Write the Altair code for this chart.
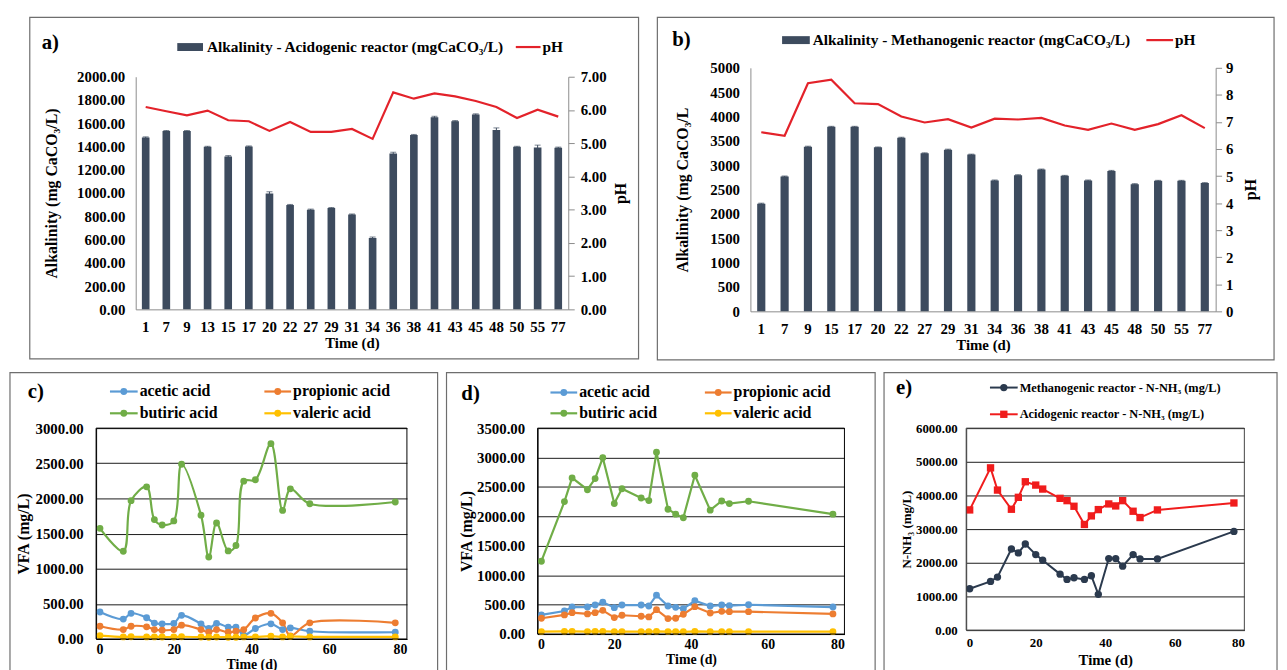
import altair as alt
import pandas as pd

FONT = "Liberation Serif"
BAR = "#3D4B5E"
RED = "#E3222A"
AXC = "#8C8C8C"
FRAME = "#6E6E6E"

# ---------------- data ----------------
days_a = ["1", "7", "9", "13", "15", "17", "20", "22", "27", "29", "31", "34", "36", "38", "41", "43", "45", "48", "50", "55", "77"]
alk_a = [1477, 1533, 1533, 1397, 1315, 1400, 996, 897, 857, 871, 815, 614, 1341, 1499, 1652, 1618, 1675, 1542, 1397, 1392, 1390]
err_a = [6, 5, 5, 5, 7, 5, 15, 5, 5, 5, 5, 8, 10, 5, 8, 5, 6, 18, 5, 20, 5]
ph_a = [6.09, 5.96, 5.84, 5.98, 5.69, 5.66, 5.37, 5.64, 5.34, 5.34, 5.43, 5.13, 6.53, 6.34, 6.50, 6.41, 6.27, 6.09, 5.76, 6.01, 5.80]

days_b = ["1", "7", "9", "15", "17", "20", "22", "27", "29", "31", "34", "36", "38", "41", "43", "45", "48", "50", "55", "77"]
alk_b = [2211, 2769, 3381, 3789, 3789, 3367, 3565, 3245, 3320, 3218, 2687, 2796, 2912, 2782, 2687, 2884, 2612, 2680, 2680, 2633]
err_b = [10, 10, 10, 10, 10, 10, 10, 10, 10, 10, 10, 10, 10, 10, 10, 10, 10, 10, 10, 10]
ph_b = [6.62, 6.49, 8.43, 8.56, 7.69, 7.66, 7.20, 6.98, 7.10, 6.79, 7.12, 7.09, 7.15, 6.87, 6.71, 6.94, 6.71, 6.92, 7.25, 6.77]

days_vfa = [1, 7, 9, 13, 15, 17, 20, 22, 27, 29, 31, 34, 36, 38, 41, 45, 48, 50, 55, 77]
acids = ["acetic acid", "propionic acid", "butiric acid", "valeric acid"]
acid_colors = ["#5B9BD5", "#ED7D31", "#70AD47", "#FFC000"]

acetic_c = [384, 283, 365, 302, 226, 216, 221, 336, 216, 149, 221, 168, 168, 55, 149, 216, 134, 158, 110, 96]
propionic_c = [182, 134, 182, 173, 134, 125, 134, 197, 134, 96, 134, 96, 110, 134, 298, 365, 230, 45, 230, 230]
butiric_c = [1574, 1248, 1968, 2165, 1699, 1622, 1680, 2486, 1762, 1166, 1651, 1253, 1330, 2246, 2266, 2779, 1829, 2136, 1925, 1949]
valeric_c = [48, 30, 32, 30, 30, 28, 28, 32, 28, 25, 28, 25, 25, 30, 30, 40, 30, 35, 30, 30]

acetic_d = [325, 392, 459, 459, 493, 543, 448, 493, 493, 476, 661, 476, 454, 431, 566, 476, 493, 482, 498, 459]
propionic_d = [269, 325, 364, 342, 364, 403, 280, 319, 302, 291, 414, 263, 269, 336, 465, 358, 386, 381, 381, 342]
butiric_d = [1238, 2251, 2654, 2453, 2643, 2996, 2218, 2470, 2313, 2268, 3091, 2122, 2038, 1977, 2699, 2106, 2262, 2218, 2257, 2038]
valeric_d = [40, 45, 45, 42, 45, 45, 40, 40, 40, 40, 45, 40, 40, 38, 45, 40, 40, 40, 40, 40]

days_e = [1, 7, 9, 13, 15, 17, 20, 22, 27, 29, 31, 34, 36, 38, 41, 43, 45, 48, 50, 55, 77]
meth_e = [1229, 1446, 1574, 2410, 2292, 2557, 2243, 2075, 1662, 1505, 1554, 1505, 1613, 1062, 2125, 2125, 1898, 2243, 2115, 2115, 2931]
acid_e = [3570, 4820, 4160, 3590, 3945, 4407, 4308, 4190, 3915, 3846, 3679, 3138, 3393, 3580, 3748, 3689, 3846, 3531, 3344, 3570, 3777]

legend_a = ["Alkalinity - Acidogenic reactor (mgCaCO\u2083/L)", "pH"]
legend_b = ["Alkalinity - Methanogenic reactor (mgCaCO\u2083/L)", "pH"]
legend_e = ["Methanogenic reactor - N-NH\u2083 (mg/L)", "Acidogenic reactor - N-NH\u2083 (mg/L)"]
panel_labels = ["a)", "b)", "c)", "d)", "e)"]
E_DARK = "#2B3A4E"
E_RED = "#F01C1C"

ONE = pd.DataFrame({"k": [0]})


# ---------------- helpers for decorations ----------------
def txt(s, x, y, size=14, align="left", angle=0):
    return alt.Chart(pd.DataFrame({"t": [s]})).mark_text(
        align=align, baseline="middle", font=FONT, fontWeight="bold",
        fontSize=size, color="black", angle=angle
    ).encode(x=alt.value(x), y=alt.value(y), text="t:N")


def frame(x1, x2, y1, y2, color=FRAME, sw=1.2):
    return alt.Chart(ONE).mark_rect(
        fill="white", fillOpacity=0, stroke=color, strokeWidth=sw
    ).encode(x=alt.value(x1), x2=alt.value(x2), y=alt.value(y1), y2=alt.value(y2))


def box(x1, x2, y1, y2, color):
    return alt.Chart(ONE).mark_rect(color=color).encode(
        x=alt.value(x1), x2=alt.value(x2), y=alt.value(y1), y2=alt.value(y2))


def hline(x1, x2, y, color, sw=2.2):
    return alt.Chart(ONE).mark_rule(color=color, strokeWidth=sw).encode(
        x=alt.value(x1), x2=alt.value(x2), y=alt.value(y))


def dot(x, y, color, shape="circle", size=45):
    return alt.Chart(ONE).mark_point(
        filled=True, opacity=1, color=color, shape=shape, size=size
    ).encode(x=alt.value(x), y=alt.value(y))


# ---------------- bar + pH panels ----------------
def bar_panel(days, alk, err, ph, W, H, ymax, ystep, yfmt, ytitle, phmax, phfmt,
              pin, pout, fr, leg, legpos, lab, labpos, ltp, rlp, phpos,
              xrange=None, yrange=None, yoff=0):
    df = pd.DataFrame({"day": days, "alk": alk, "ph": ph,
                       "lo": [a - e for a, e in zip(alk, err)],
                       "hi": [a + e for a, e in zip(alk, err)]})
    xax = alt.Axis(title="Time (d)", labelAngle=0, labelFontSize=15, titleFontSize=15,
                   ticks=False, tickSize=0, labelPadding=10, titlePadding=2,
                   domainColor=AXC, labelFont=FONT, titleFont=FONT)
    xsk = dict(paddingInner=pin, paddingOuter=pout)
    if xrange is not None:
        xsk["range"] = xrange
    xsc = alt.Scale(**xsk)
    yax = alt.Axis(values=list(range(0, ymax + 1, ystep)), format=yfmt, title=ytitle,
                   labelFontSize=15, titleFontSize=16, ticks=False, tickSize=0,
                   labelPadding=11, titlePadding=ltp, domainColor=AXC, grid=False, offset=yoff)
    ysk = dict(domain=[0, ymax], nice=False)
    psk = dict(domain=[0, phmax], nice=False)
    if yrange is not None:
        ysk["range"] = yrange
        psk["range"] = yrange
    ysc = alt.Scale(**ysk)

    def X():
        return alt.X("day:N", sort=days, scale=xsc, axis=xax)

    bars = alt.Chart(df).mark_bar(color=BAR).encode(x=X(), y=alt.Y("alk:Q", scale=ysc, axis=yax))
    errs = alt.Chart(df).mark_rule(color=BAR, strokeWidth=1).encode(
        x=X(), y=alt.Y("lo:Q", scale=ysc, axis=yax), y2="hi:Q")
    cap1 = alt.Chart(df).mark_tick(color=BAR, size=6, thickness=1).encode(
        x=X(), y=alt.Y("lo:Q", scale=ysc, axis=yax))
    cap2 = alt.Chart(df).mark_tick(color=BAR, size=6, thickness=1).encode(
        x=X(), y=alt.Y("hi:Q", scale=ysc, axis=yax))
    left = alt.layer(bars, errs, cap1, cap2)

    line = alt.Chart(df).mark_line(color=RED, strokeWidth=2.2).encode(
        x=alt.X("day:N", sort=days, scale=xsc, axis=xax, bandPosition=0.5),
        y=alt.Y("ph:Q", scale=alt.Scale(**psk),
                axis=alt.Axis(orient="right", values=list(range(0, phmax + 1)), format=phfmt,
                              title=None, labelFontSize=15,
                              ticks=True, tickSize=6, tickColor=AXC, labelPadding=rlp,
                              domainColor=AXC, grid=False)))

    (rx1, rx2, ly, tx, lx1, lx2, tx2) = legpos
    deco = [
        frame(*fr),
        box(rx1, rx2, ly - 4, ly + 4, BAR),
        txt(leg[0], tx, ly, 15.5),
        hline(lx1, lx2, ly, RED),
        txt(leg[1], tx2, ly, 15.5),
        txt(lab, labpos[0], labpos[1], 21),
        txt("pH", phpos[0], phpos[1], 16, align="center", angle=270),
    ]
    return alt.layer(left, line, *deco).resolve_scale(y="independent").properties(width=W, height=H)


# panel a: group origin shared with panel c (x) and panel b (y)
chart_a = bar_panel(days_a, alk_a, err_a, ph_a, 477, 244, 2000, 200, ".2f",
                    "Alkalinity (mg CaCO\u2083/L)", 7, ".2f", 0.63, 0.3,
                    (-67, 548, -51, 294), legend_a, (82, 108, -21, 112, 424, 449, 451),
                    panel_labels[0], (-55, -25), 17, 6, (530, 127),
                    xrange=[40, 477], yrange=[244, 9], yoff=-40)

chart_b = bar_panel(days_b, alk_b, err_b, ph_b, 470, 246, 5000, 500, "d",
                    "Alkalinity (mg CaCO\u2083/L", 9, "d", 0.65, 0.29,
                    (-94, 529, -51, 295), legend_b, (32, 60, -28, 63, 400, 427, 429),
                    panel_labels[1], (-79, -28), 20, 4, (506, 123))


# ---------------- VFA panels ----------------
def vfa_panel(series, W, H, ymax, interp, fr, legpos, lab, labpos, ttp):
    rows = []
    for name, vals in zip(acids, series):
        for d, v in zip(days_vfa, vals):
            rows.append({"day": d, "val": v, "acid": name})
    df = pd.DataFrame(rows)
    xenc = alt.X("day:Q", scale=alt.Scale(domain=[0, 80], nice=False),
                 axis=alt.Axis(values=[0, 20, 40, 60, 80], format="d", title="Time (d)",
                               labelFontSize=14, titleFontSize=14, ticks=False, tickSize=0,
                               labelPadding=4, titlePadding=1, domainColor="black", grid=False))
    yenc = alt.Y("val:Q", scale=alt.Scale(domain=[0, ymax], nice=False),
                 axis=alt.Axis(values=list(range(0, ymax + 1, 500)), format=".2f",
                               title="VFA (mg/L)", labelFontSize=15, titleFontSize=16,
                               ticks=False, tickSize=0, labelPadding=13, titlePadding=ttp,
                               domainColor="black", grid=True, gridColor="#1a1a1a", gridWidth=1))
    cenc = alt.Color("acid:N", scale=alt.Scale(domain=acids, range=acid_colors), legend=None)
    line = alt.Chart(df).mark_line(interpolate=interp, strokeWidth=2.2).encode(x=xenc, y=yenc, color=cenc)
    pts = alt.Chart(df).mark_point(filled=True, opacity=1, size=48).encode(x=xenc, y=yenc, color=cenc)

    (r1, r2, xa1, xa2, xb1, xb2) = legpos
    deco = [frame(0, W, 0, H, "black", 1), frame(*fr)]
    for i, (name, col) in enumerate(zip(acids, acid_colors)):
        yy = r1 if i < 2 else r2
        x1, x2 = (xa1, xa2) if i % 2 == 0 else (xb1, xb2)
        deco += [hline(x1, x2, yy, col, 2.2), dot((x1 + x2) / 2, yy, col, size=48),
                 txt(name, x2 + 2, yy, 16)]
    deco.append(txt(lab, labpos[0], labpos[1], 21))
    return alt.layer(line, pts, *deco).properties(width=W, height=H)


chart_c = vfa_panel([acetic_c, propionic_c, butiric_c, valeric_c], 314, 213, 3000, "catmull-rom",
                    (-87, 345, -56, 250), (-37, -15, 14, 42, 170, 197),
                    panel_labels[2], (-69, -36), 4)
chart_d = vfa_panel([acetic_d, propionic_d, butiric_d, valeric_d], 310, 208, 3500, "linear",
                    (-92, 341, -56, 250), (-36, -15, 13, 40, 169, 196),
                    panel_labels[3], (-77, -34), 2)


# ---------------- N-NH3 panel ----------------
df_e = pd.DataFrame({"day": days_e, "meth": meth_e, "acid": acid_e})
W_E, H_E = 281, 204
xe = alt.X("day:Q", scale=alt.Scale(domain=[0, 80], nice=False),
           axis=alt.Axis(values=[0, 20, 40, 60, 80], format="d", title="Time (d)",
                         labelFontSize=13, titleFontSize=15, ticks=False, tickSize=0,
                         labelPadding=7, titlePadding=3, domainColor="#444", grid=False))
yax_e = alt.Axis(values=list(range(0, 6001, 1000)), format=".2f", title="N-NH\u2083 (mg/L)",
                 labelFontSize=13, titleFontSize=13, ticks=False, tickSize=0, labelPadding=9,
                 titlePadding=2, domainColor="#444", grid=True, gridColor="#1a1a1a", gridWidth=1)
ysc_e = alt.Scale(domain=[0, 6000], nice=False)
m_line = alt.Chart(df_e).mark_line(color=E_DARK, strokeWidth=2).encode(
    x=xe, y=alt.Y("meth:Q", scale=ysc_e, axis=yax_e))
m_pts = alt.Chart(df_e).mark_point(filled=True, opacity=1, color=E_DARK, size=55).encode(
    x=xe, y=alt.Y("meth:Q", scale=ysc_e, axis=yax_e))
a_line = alt.Chart(df_e).mark_line(color=E_RED, strokeWidth=2).encode(
    x=xe, y=alt.Y("acid:Q", scale=ysc_e, axis=yax_e))
a_pts = alt.Chart(df_e).mark_point(filled=True, opacity=1, color=E_RED, shape="square", size=55).encode(
    x=xe, y=alt.Y("acid:Q", scale=ysc_e, axis=yax_e))
deco_e = [
    frame(0, W_E, 0, H_E, "#444", 1),
    frame(-83, 314, -56, 250),
    hline(24, 52, -41, E_DARK, 2), dot(38, -41, E_DARK, size=55), txt(legend_e[0], 54, -41, 12.5),
    hline(24, 52, -14, E_RED, 2), dot(38, -14, E_RED, "square", 55), txt(legend_e[1], 54, -14, 12.5),
    txt(panel_labels[4], -71, -40, 21),
]
chart_e = alt.layer(m_line, m_pts, a_line, a_pts, *deco_e).properties(width=W_E, height=H_E)

# ---------------- assemble ----------------
top = alt.hconcat(chart_a, chart_b, spacing=15)
bottom = alt.hconcat(chart_c, chart_d, chart_e, spacing=5)
chart = alt.vconcat(top, bottom, spacing=9).properties(
    padding={"left": 0, "top": 4, "right": 0, "bottom": 0}
).configure(font=FONT).configure_view(stroke="transparent").configure_axis(
    labelFont=FONT, titleFont=FONT, labelFontWeight="bold", titleFontWeight="bold",
    labelColor="black", titleColor="black"
)

chart.save("out.html", embed_options={"renderer": "svg", "actions": False})
